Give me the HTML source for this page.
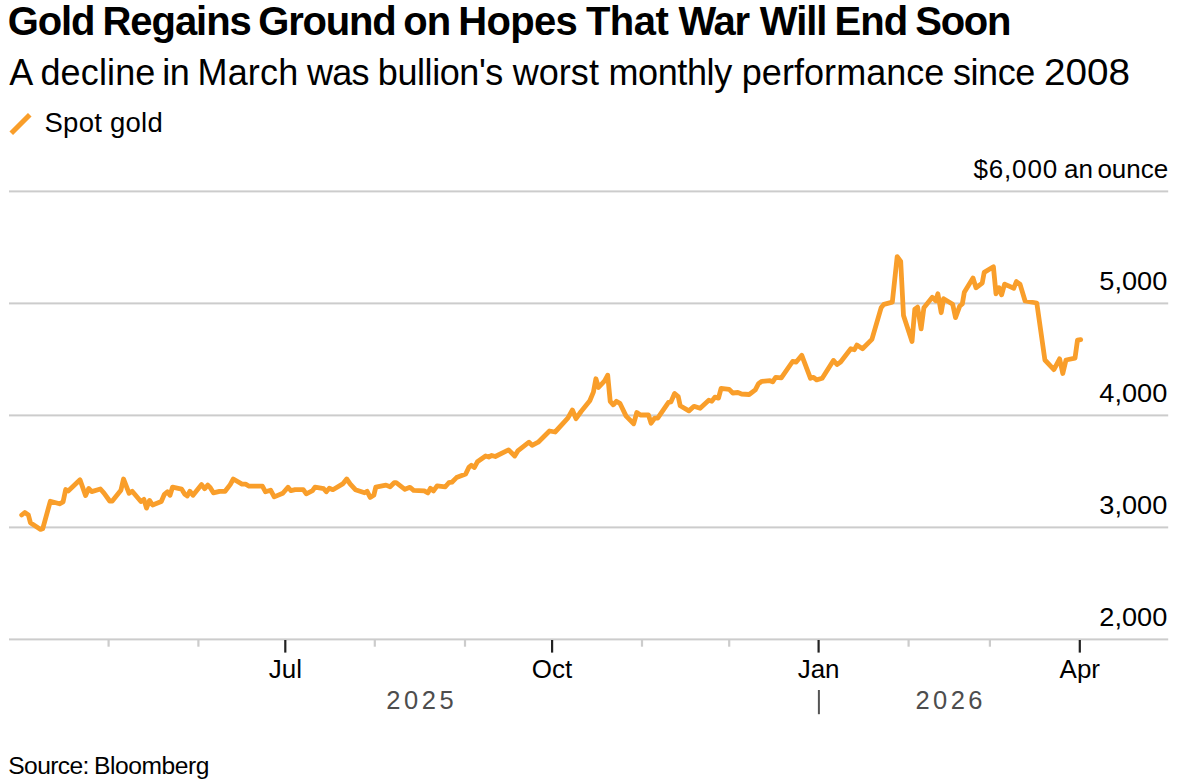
<!DOCTYPE html>
<html><head><meta charset="utf-8">
<style>
html,body{margin:0;padding:0;background:#fff;}
body{width:1179px;height:783px;overflow:hidden;}
svg{display:block;font-family:"Liberation Sans",sans-serif;}
.yl{font-size:25px;fill:#000;}
.ml{font-size:26px;fill:#000;}
.yr{font-size:25.5px;fill:#4d4d4d;}
</style></head><body>
<svg width="1179" height="783" viewBox="0 0 1179 783">
<g font-size="40" font-weight="bold" fill="#000"><text x="7.8" y="35" letter-spacing="-1.133">Gold</text><text x="102.5" y="35" letter-spacing="-1.05">Regains</text><text x="258.2" y="35" letter-spacing="-1.16">Ground</text><text x="403.3" y="35" letter-spacing="-1.1">on</text><text x="458.2" y="35" letter-spacing="-0.675">Hopes</text><text x="585.9" y="35" letter-spacing="-0.533">That</text><text x="678.4" y="35" letter-spacing="-1.2">War</text><text x="759.8" y="35" letter-spacing="-1.033">Will</text><text x="834.4" y="35" letter-spacing="-0.9">End</text><text x="915.2" y="35" letter-spacing="-1.233">Soon</text></g>
<g font-size="36" fill="#000"><text x="9.3" y="85" letter-spacing="-0.2">A</text><text x="40.4" y="85" letter-spacing="0.15">decline</text><text x="162.2" y="85" letter-spacing="-0.4">in</text><text x="197.5" y="85" letter-spacing="0.175">March</text><text x="307" y="85" letter-spacing="-0.8">was</text><text x="377.8" y="85" letter-spacing="-0.425">bullion&#39;s</text><text x="512.7" y="85" letter-spacing="0.05">worst</text><text x="608.5" y="85" letter-spacing="-0.4">monthly</text><text x="741.8" y="85" letter-spacing="0.05">performance</text><text x="952.9" y="85" letter-spacing="-0.425">since</text><text x="1044" y="85" textLength="86" lengthAdjust="spacingAndGlyphs">2008</text></g>
<path d="M11.25 133.25 L29.75 114.75" stroke="#F99E2A" stroke-width="5.1" stroke-linecap="butt"/>
<text x="44.5" y="131.7" font-size="27.5" letter-spacing="0.25" fill="#000">Spot gold</text>
<g font-size="26" fill="#000"><text x="973.5" y="178" letter-spacing="0.82">$6,000</text><text x="1064" y="178">an</text><text x="1097.4" y="178">ounce</text></g>
<rect x="9" y="190.40" width="1159.2" height="2" fill="#cccccc"/><rect x="9" y="302.40" width="1159.2" height="2" fill="#cccccc"/><rect x="9" y="414.40" width="1159.2" height="2" fill="#cccccc"/><rect x="9" y="526.40" width="1159.2" height="2" fill="#cccccc"/><rect x="9" y="638.40" width="1159.2" height="2" fill="#cccccc"/>
<rect x="107.50" y="639.4" width="2.2" height="7.3" fill="#cccccc"/><rect x="197.30" y="639.4" width="2.2" height="7.3" fill="#cccccc"/><rect x="373.70" y="639.4" width="2.2" height="7.3" fill="#cccccc"/><rect x="463.90" y="639.4" width="2.2" height="7.3" fill="#cccccc"/><rect x="640.90" y="639.4" width="2.2" height="7.3" fill="#cccccc"/><rect x="728.10" y="639.4" width="2.2" height="7.3" fill="#cccccc"/><rect x="907.50" y="639.4" width="2.2" height="7.3" fill="#cccccc"/><rect x="988.80" y="639.4" width="2.2" height="7.3" fill="#cccccc"/><rect x="284.20" y="640" width="2.2" height="12.6" fill="#222"/><rect x="551.00" y="640" width="2.2" height="12.6" fill="#222"/><rect x="817.50" y="640" width="2.2" height="12.6" fill="#222"/><rect x="1078.70" y="640" width="2.2" height="12.6" fill="#222"/>
<text x="1099.3" y="289.90" textLength="68" lengthAdjust="spacingAndGlyphs" class="yl">5,000</text><text x="1099.3" y="401.90" textLength="68" lengthAdjust="spacingAndGlyphs" class="yl">4,000</text><text x="1099.3" y="513.90" textLength="68" lengthAdjust="spacingAndGlyphs" class="yl">3,000</text><text x="1099.3" y="625.90" textLength="68" lengthAdjust="spacingAndGlyphs" class="yl">2,000</text>
<text x="285.3" y="678" text-anchor="middle" class="ml">Jul</text>
<text x="552.1" y="678" text-anchor="middle" class="ml">Oct</text>
<text x="818.6" y="678" text-anchor="middle" class="ml">Jan</text>
<text x="1079.8" y="678" text-anchor="middle" class="ml">Apr</text>
<text x="386.3" y="708.7" textLength="67.5" lengthAdjust="spacing" class="yr">2025</text>
<text x="915.5" y="708.7" textLength="67" lengthAdjust="spacing" class="yr">2026</text>
<rect x="817.9" y="690" width="2" height="24.2" fill="#555"/>
<g font-size="24.6" fill="#000"><text x="8.3" y="774" letter-spacing="-0.6">Source:</text><text x="94.1" y="774" letter-spacing="-0.44">Bloomberg</text></g>
<path d="M21.7 515.0 L24.8 512.5 L28.4 515.0 L30.4 522.7 L40.6 529.4 L42.7 528.8 L50.3 501.3 L59.5 503.8 L63.1 501.8 L65.7 489.5 L68.2 491.0 L80 479.8 L85.6 495.6 L88.7 488.5 L91.7 491.6 L100.4 489.0 L104 493.1 L109.7 501.0 L112.3 501.0 L120.9 490.2 L123.5 479.0 L129.1 493.3 L132.2 491.3 L140.9 501.5 L143.9 499.4 L146.5 508.1 L149.5 500.4 L152.6 505.0 L161.3 501.5 L164.4 494.3 L167.4 491.8 L170 495.3 L172.5 487.2 L181.7 489.2 L184.8 494.3 L187.3 495.9 L189.9 491.3 L193 495.3 L201.6 484.6 L204.7 488.7 L207.8 485.1 L210.3 487.7 L213.4 492.8 L219.5 491.3 L225.1 491.3 L230.2 484.6 L233.3 479.0 L242 484.1 L245.6 484.1 L249.1 486.2 L262.4 486.2 L265.5 491.8 L270.6 490.2 L274.2 496.9 L282.8 493.3 L288 487.2 L291 490.7 L295.1 489.7 L303.3 489.7 L306.3 493.8 L312.5 490.7 L315 487.2 L323.7 488.7 L326.3 491.8 L329.3 488.2 L332.9 489.7 L343.1 483.6 L346.7 479.0 L350.3 484.1 L355.4 489.7 L364.6 492.8 L367.1 491.3 L370.2 497.4 L373.8 495.3 L375.8 487.2 L386 485.1 L390.1 486.8 L394.2 482.7 L396.2 482.7 L404.9 489.3 L410 487.3 L413.6 490.4 L424.3 490.9 L427.9 492.9 L430.5 488.3 L433.5 490.9 L437.1 485.8 L445.3 486.8 L448.8 482.7 L451.9 482.2 L456.5 477.6 L465.7 474.0 L468.8 467.4 L471.3 465.3 L474.4 467.4 L477.4 461.8 L485.6 456.0 L488.7 457.0 L491.7 455.5 L495.3 456.5 L508.6 449.9 L514.7 456.0 L517.8 450.9 L529 442.2 L532.1 445.3 L538.2 442.2 L549.5 431.0 L555.1 432.0 L567.8 418.2 L572.4 410.0 L576 418.7 L581.1 411.5 L589.8 400.7 L593.4 392.1 L595.9 378.8 L598.5 387.5 L604.6 380.8 L607.7 375.2 L610.2 401.3 L613.3 404.8 L616.4 401.3 L619.9 403.3 L626.1 416.1 L633.7 423.7 L636.8 412.5 L640.4 415.0 L648.5 415.0 L651.1 423.2 L654.7 418.1 L657.7 418.1 L668.5 402.3 L671 401.8 L674.6 393.5 L678.2 396.6 L680.2 405.8 L688.9 410.9 L694 406.3 L700.1 408.3 L708.8 400.2 L711.9 401.2 L714.9 397.1 L718.5 398.1 L721.1 388.4 L729.2 389.4 L732.8 393.0 L737.9 392.5 L741.5 394.0 L749.2 394.5 L755.3 389.9 L758.4 383.8 L761.9 381.3 L770 380.7 L772.7 381.9 L775.7 377.3 L781.3 377.8 L792.6 361.5 L796.2 362.0 L801.8 355.3 L810.5 378.3 L813.5 377.3 L816.6 379.9 L822.2 378.3 L833.4 360.4 L837 364.5 L840.6 362.0 L850.8 348.7 L854.4 349.7 L856.9 345.1 L862.5 348.7 L871.9 339.4 L881.1 307.8 L883.9 304.3 L892.3 302.2 L897.2 256.6 L900.7 261.5 L903.5 315.5 L912 341.5 L914.8 309.2 L917.6 307.1 L921.1 328.9 L923.9 307.8 L932.3 297.3 L935.8 300.8 L937.9 293.8 L941.2 312.7 L943.6 298.7 L952.7 304.3 L955.5 317.6 L959.7 306.1 L962.3 304.0 L964.3 292.3 L973 278.0 L976 287.7 L982.2 283.1 L984.2 272.4 L993.4 266.7 L996 293.8 L999 287.7 L1001.6 294.8 L1004.6 284.1 L1013.8 288.2 L1016.4 281.6 L1020 284.1 L1025.1 301.0 L1036.8 303.0 L1044.9 360.0 L1053.9 369.6 L1059.6 358.8 L1062.8 373.5 L1066 360.0 L1075 358.1 L1077.5 340.2 L1080.7 339.6" fill="none" stroke="#F99E2A" stroke-width="4.8" stroke-linejoin="round" stroke-linecap="round"/>
</svg>
</body></html>
